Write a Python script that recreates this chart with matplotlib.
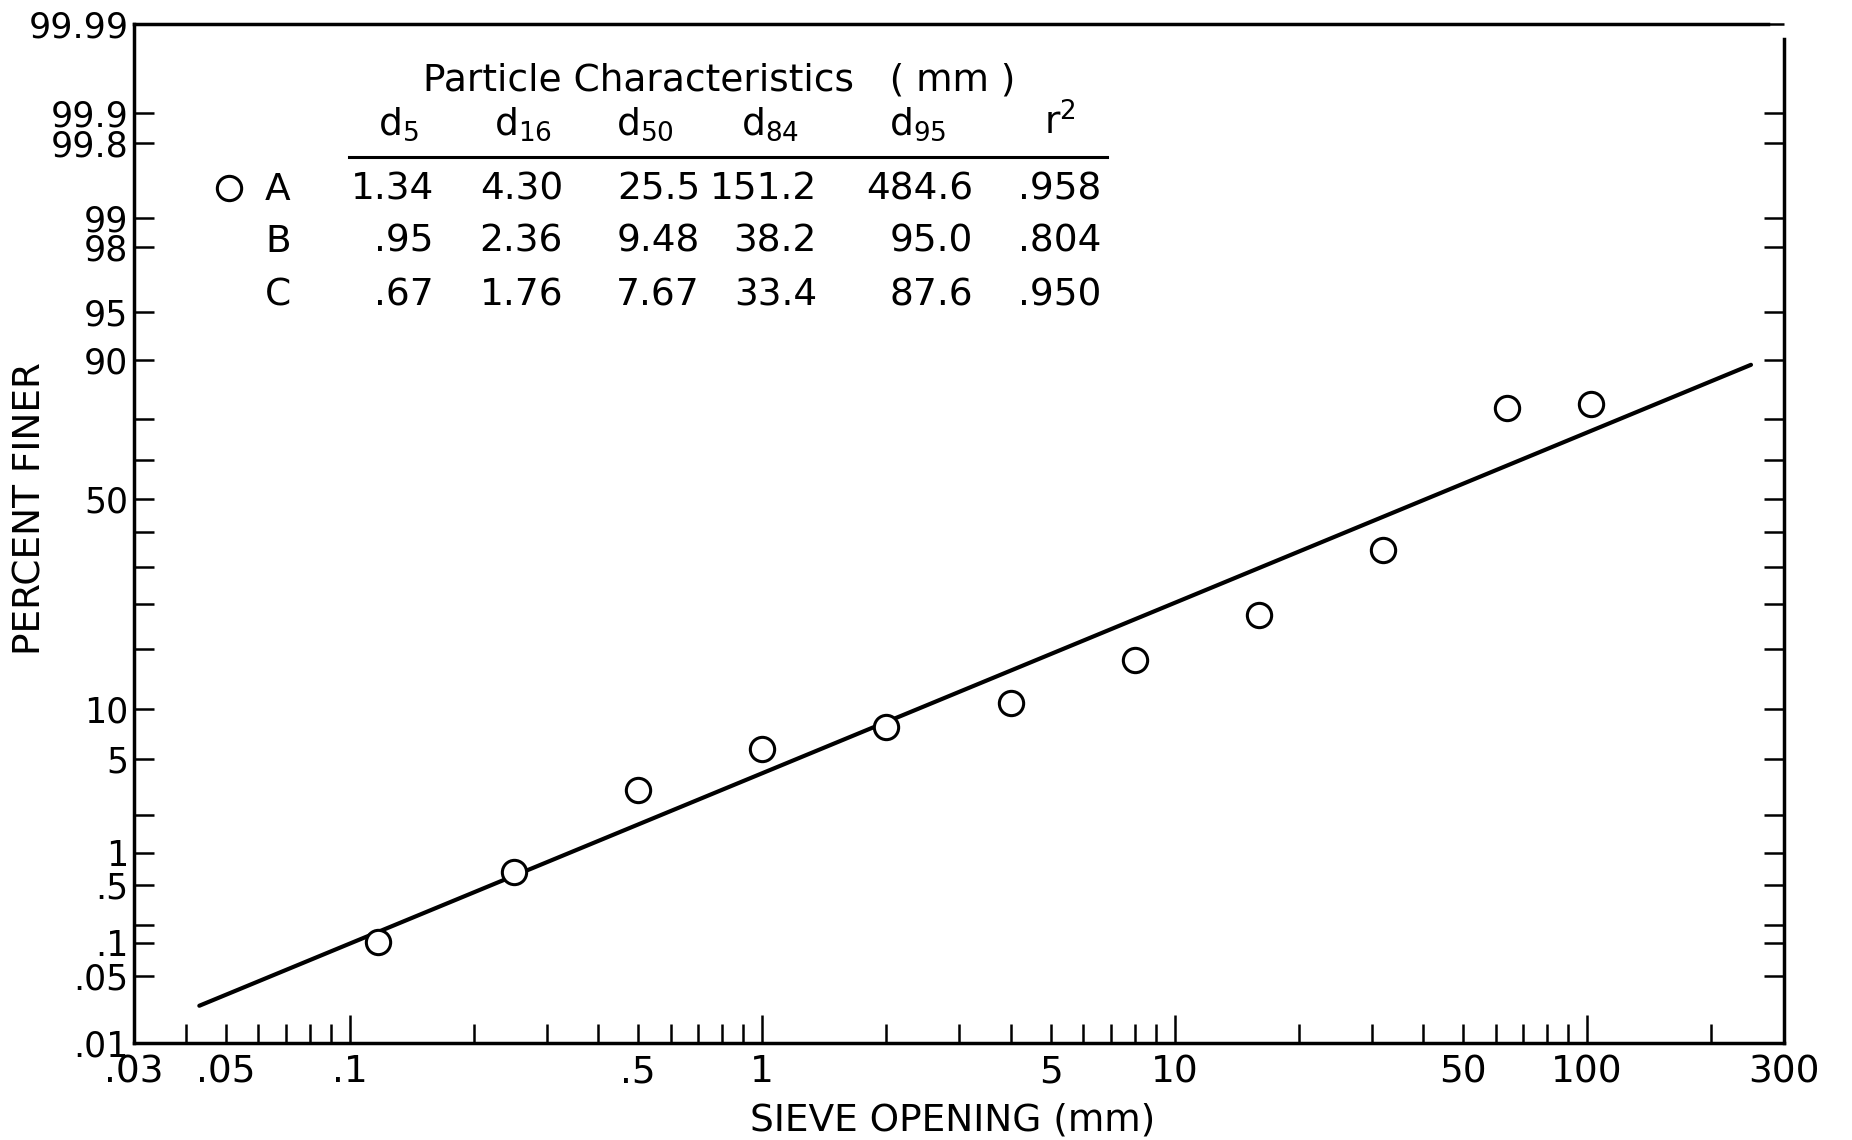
import math
import numpy as np
import matplotlib
matplotlib.use("Agg")
import matplotlib.pyplot as plt
from matplotlib.lines import Line2D
from matplotlib.transforms import Affine2D

# sieve analysis of sample A (open circles)
sieve_mm = [0.117, 0.25, 0.5, 1, 2, 4, 8, 16, 32, 64, 102]
pct_finer = [0.104, 0.67, 3.1, 5.8, 7.9, 10.7, 16.3, 23.9, 37.8, 79.9, 81.0]

# fitted line (end points)
fit_mm = [0.0432, 249.5]
fit_pct = [0.025, 89.2]

# particle characteristics table (mm)
samples = ["A", "B", "C"]
d5 = ["1.34", ".95", ".67"]
d16 = ["4.30", "2.36", "1.76"]
d50 = ["25.5", "9.48", "7.67"]
d84 = ["151.2", "38.2", "33.4"]
d95 = ["484.6", "95.0", "87.6"]
r2 = [".958", ".804", ".950"]
col_heads = ["d$_5$", "d$_{16}$", "d$_{50}$", "d$_{84}$", "d$_{95}$", "r$^2$"]

# axis ticks
y_labelled = [99.99, 99.9, 99.8, 99, 98, 95, 90, 50, 10, 5, 1, 0.5, 0.1, 0.05, 0.01]
y_labels = ["99.99", "99.9", "99.8", "99", "98", "95", "90", "50",
            "10", "5", "1", ".5", ".1", ".05", ".01"]
y_unlabelled = [77, 64, 42, 34, 26, 18, 2, 0.17]
x_major = [0.1, 1, 10, 100]
x_major_labels = [".1", "1", "10", "100"]
x_named = {0.03: ".03", 0.05: ".05", 0.5: ".5", 5: "5", 50: "50", 300: "300"}

FS = 27
plt.rcParams["font.family"] = ["DejaVu Sans"]
plt.rcParams["mathtext.default"] = "regular"

# probability paper: normal quantile scale, calibrated on the printed
# gridlines of the paper (it is not a perfectly regular normal scale)
Z_GRID = np.linspace(-6, 6, 24001)
_erfc = np.vectorize(math.erfc, otypes=[float])


def norm_cdf(z):
    return 0.5 * _erfc(-np.asarray(z, float) / math.sqrt(2))


CDF_GRID = norm_cdf(Z_GRID)
PAPER_Z = np.interp(np.array(y_labelled) / 100, CDF_GRID, Z_GRID)[::-1]
PAPER_H = np.array([475, 386, 356, 281, 252, 187, 139, 0,
                    -210, -260, -354, -386, -444, -477, -544], float)[::-1]


def prob_forward(p):
    q = np.clip(np.asarray(p, float) / 100, 1e-8, 1 - 1e-8)
    z = np.interp(q, CDF_GRID, Z_GRID)
    return np.interp(z, PAPER_Z, PAPER_H)


def prob_inverse(h):
    z = np.interp(np.asarray(h, float), PAPER_H, PAPER_Z)
    return 100 * norm_cdf(z)


W, H = 1852, 1140
fig = plt.figure(figsize=(W / 100, H / 100), dpi=100)
ax = fig.add_axes([134 / W, 1 - 1043 / H, 1650 / W, 1019 / H])
PX = Affine2D().scale(1 / W, -1 / H).translate(0, 1) + fig.transFigure

ax.set_xscale("log")
ax.set_yscale("function", functions=(prob_forward, prob_inverse))

ax.plot(fit_mm, fit_pct, color="black", lw=3.0, solid_capstyle="round", zorder=2)
ax.plot(sieve_mm, pct_finer, linestyle="none", marker="o", ms=17.5, mew=2.2,
        mfc="white", mec="black", zorder=3)

ax.set_xlim(0.03, 300)
ax.set_ylim(0.01, 99.99)

# x ticks
x_minor = [v for v in np.concatenate([np.arange(2, 10) * 10.0 ** k for k in range(-2, 3)])
           if 0.03 - 1e-9 <= v <= 300 + 1e-9]
x_minor_labels = [next((s for k, s in x_named.items() if abs(k - v) < 1e-9), "") for v in x_minor]
ax.set_xticks(x_major, x_major_labels)
ax.set_xticks(x_minor, x_minor_labels, minor=True)
ax.tick_params(axis="x", which="major", direction="in", length=20, width=1.8,
               labelsize=FS, pad=8, top=False)
ax.tick_params(axis="x", which="minor", direction="in", length=13.5, width=1.8,
               labelsize=FS, pad=8, top=False)

# y ticks
ax.set_yticks(y_labelled, y_labels)
ax.set_yticks(y_unlabelled, minor=True)
ax.tick_params(axis="y", which="both", direction="in", length=14.4, width=1.8,
               left=True, right=True, labelsize=25, pad=4)

for s in ax.spines.values():
    s.set_linewidth(2.5)
ax.spines["top"].set_bounds(0.03, 275)
ax.spines["right"].set_bounds(0.01, 99.985)

ax.set_xlabel("SIEVE OPENING (mm)", fontsize=FS, va="center")
ax.xaxis.set_label_coords(0.496, -0.0756)
ax.set_ylabel("PERCENT FINER", fontsize=FS, va="center")
ax.yaxis.set_label_coords(-0.063, 0.525)

# table of particle characteristics
fig.text(719, 90, "Particle Characteristics   ( mm )", transform=PX, fontsize=FS,
         ha="center", va="baseline")
head_x = [398, 523, 645, 770, 918, 1060]
for hx, h in zip(head_x, col_heads):
    fig.text(hx, 135, h, transform=PX, fontsize=FS, ha="center", va="baseline")
fig.add_artist(Line2D([349, 1107], [157, 157], transform=PX, color="black", lw=2.2))

col_right = [434, 563, 700, 817, 973, 1101]
row_base = [200, 252, 305]
columns = [d5, d16, d50, d84, d95, r2]
for i, name in enumerate(samples):
    fig.text(278, row_base[i], name, transform=PX, fontsize=FS, ha="center", va="baseline")
    for cx, col in zip(col_right, columns):
        fig.text(cx, row_base[i], col[i], transform=PX, fontsize=FS, ha="right", va="baseline")
fig.add_artist(Line2D([229], [188], transform=PX, linestyle="none", marker="o", ms=17.5,
                      mew=2.2, mfc="white", mec="black"))

fig.savefig("out.png", dpi=100)
